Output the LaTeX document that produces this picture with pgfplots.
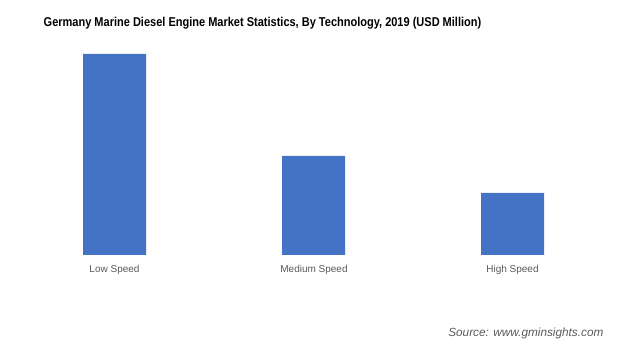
\documentclass[border=0pt]{standalone}
\usepackage{pgfplots}
\pgfplotsset{compat=1.18}
\usepackage{fontspec}
\setmainfont{Liberation Sans}
\newfontfamily\titlefont[FakeStretch=0.86]{Liberation Sans}
\definecolor{barblue}{HTML}{4472C4}
\definecolor{lblgray}{HTML}{595959}
\begin{document}
\begin{tikzpicture}[x=1pt,y=1pt]
\path[use as bounding box] (0,0) rectangle (627,351);
\begin{axis}[
  at={(0,96)}, anchor=south west,
  scale only axis, width=597pt, height=220pt,
  xmin=-0.5754, xmax=2.4246, ymin=0, ymax=220,
  axis lines=none,
  ybar, bar width=63pt,
  ytick=\empty, xtick=\empty,
  clip=false,
]
\addplot[fill=barblue, draw=none] coordinates {(0,201) (1,99) (2,62)};
\end{axis}
\node[text=lblgray, font=\fontsize{10}{12}\selectfont] at (114.5,81) {Low Speed};
\node[text=lblgray, font=\fontsize{10}{12}\selectfont] at (314,81) {Medium Speed};
\node[text=lblgray, font=\fontsize{10}{12}\selectfont] at (512.5,81) {High Speed};
\node[font=\titlefont\bfseries\fontsize{12.8}{15}\selectfont] at (262.5,327.5) {Germany Marine Diesel Engine Market Statistics, By Technology, 2019 (USD Million)};
\node[anchor=east, text=lblgray, font=\itshape\fontsize{11.8}{14}\selectfont] at (607,18) {Source: www.gminsights.com};
\end{tikzpicture}
\end{document}
